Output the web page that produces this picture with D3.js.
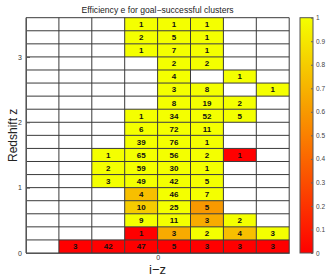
<!DOCTYPE html>
<html>
<head>
<meta charset="utf-8">
<script src="https://cdn.jsdelivr.net/npm/d3@7"></script>
<style>
  html, body { margin: 0; padding: 0; background: #fff; }
  svg { display: block; font-family: "Liberation Sans", Arial, Helvetica, sans-serif; }
</style>
</head>
<body>
<svg id="chart" width="327" height="279"></svg>
<script>
// ---- data ----
const title = "Efficiency e for goal\u2212successful clusters";
const xLabel = "i\u2212z";
const yLabel = "Redshift z";
const izEdges = [-0.8, -0.6, -0.4, -0.2, 0, 0.2, 0.4, 0.6, 0.8];
const zEdges = [0, 0.2, 0.4, 0.6, 0.8, 1.0, 1.2, 1.4, 1.6, 1.8, 2.0, 2.2, 2.4, 2.6, 2.8, 3.0, 3.2, 3.4, 3.6];
const xTicks = [0];
const yTicks = [0, 1, 2, 3];
const cbTicks = [0, 0.1, 0.2, 0.3, 0.4, 0.5, 0.6, 0.7, 0.8, 0.9, 1];
// rows from lowest redshift bin upward; columns follow izEdges bins
const counts = [
  [null, 3, 42, 47, 5, 3, 3, 3],
  [null, null, null, 1, 3, 2, 4, 3],
  [null, null, null, 9, 11, 3, 2, null],
  [null, null, null, 10, 25, 5, null, null],
  [null, null, null, 4, 46, 7, null, null],
  [null, null, 3, 49, 42, 5, null, null],
  [null, null, 2, 59, 30, 1, null, null],
  [null, null, 1, 65, 56, 2, 1, null],
  [null, null, null, 39, 76, 1, null, null],
  [null, null, null, 6, 72, 11, null, null],
  [null, null, null, 1, 34, 52, 5, null],
  [null, null, null, null, 8, 19, 2, null],
  [null, null, null, null, 3, 8, null, 1],
  [null, null, null, null, 4, null, 1, null],
  [null, null, null, null, 2, 2, null, null],
  [null, null, null, 1, 7, 1, null, null],
  [null, null, null, 2, 5, 1, null, null],
  [null, null, null, 1, 1, 1, null, null]
];
const efficiency = [
  [null, 0, 0, 0, 0, 0, 0, 0],
  [null, null, null, 0, 0.67, 1, 0.75, 1],
  [null, null, null, 1, 1, 0.67, 1, null],
  [null, null, null, 0.8, 1, 0.6, null, null],
  [null, null, null, 0.75, 1, 1, null, null],
  [null, null, 1, 1, 1, 1, null, null],
  [null, null, 1, 1, 1, 1, null, null],
  [null, null, 1, 1, 1, 1, 0, null],
  [null, null, null, 1, 1, 1, null, null],
  [null, null, null, 1, 1, 1, null, null],
  [null, null, null, 1, 1, 1, 1, null],
  [null, null, null, null, 1, 1, 1, null],
  [null, null, null, null, 1, 1, null, 1],
  [null, null, null, null, 1, null, 1, null],
  [null, null, null, null, 1, 1, null, null],
  [null, null, null, 1, 1, 1, null, null],
  [null, null, null, 1, 1, 1, null, null],
  [null, null, null, 1, 1, 1, null, null]
];

(function () {
// ---- layout ----
const svg = d3.select("#chart");
const pLeft = 26, pRight = 289.2, pTop = 17.7, pBottom = 253;
const x = d3.scaleLinear().domain([izEdges[0], izEdges[izEdges.length - 1]]).range([pLeft, pRight]);
const y = d3.scaleLinear().domain([zEdges[0], zEdges[zEdges.length - 1]]).range([pBottom, pTop]);
const color = d3.scaleLinear().domain([0, 1]).range(["#ff0000", "#f4ff00"]).interpolate(d3.interpolateRgb);

const cells = [];
counts.forEach((row, ri) => row.forEach((c, ci) => {
  cells.push({ ri, ci, c, e: efficiency[ri][ci] });
}));
const filled = cells.filter(d => d.c !== null);

// cells
svg.append("g").selectAll("rect").data(filled).join("rect")
  .attr("x", d => x(izEdges[d.ci]))
  .attr("y", d => y(zEdges[d.ri + 1]))
  .attr("width", d => x(izEdges[d.ci + 1]) - x(izEdges[d.ci]))
  .attr("height", d => y(zEdges[d.ri]) - y(zEdges[d.ri + 1]))
  .attr("fill", d => color(d.e));

// grid lines
const grid = svg.append("g").attr("stroke", "#3a3a3a").attr("stroke-width", 1);
grid.selectAll("line.h").data(zEdges).join("line").attr("class", "h")
  .attr("x1", pLeft).attr("x2", pRight)
  .attr("y1", d => y(d)).attr("y2", d => y(d));
grid.selectAll("line.v").data(izEdges).join("line").attr("class", "v")
  .attr("y1", pTop).attr("y2", pBottom)
  .attr("x1", d => x(d)).attr("x2", d => x(d));

// cell labels
svg.append("g").selectAll("text").data(filled).join("text")
  .attr("x", d => (x(izEdges[d.ci]) + x(izEdges[d.ci + 1])) / 2)
  .attr("y", d => (y(zEdges[d.ri]) + y(zEdges[d.ri + 1])) / 2)
  .attr("dy", "0.36em")
  .attr("text-anchor", "middle")
  .attr("font-size", 8)
  .attr("font-weight", "bold")
  .attr("fill", "#111")
  .text(d => d.c);

// axes
const yAxis = svg.append("g").attr("transform", `translate(${pLeft},0)`)
  .call(d3.axisLeft(y).tickValues(yTicks).tickSizeInner(-4).tickSizeOuter(0).tickPadding(4).tickFormat(d3.format("d")));
yAxis.select(".domain").attr("stroke", "#555");
yAxis.selectAll(".tick line").attr("stroke", "#555");
yAxis.selectAll("text").attr("font-size", 7).attr("fill", "#333").attr("font-family", "Liberation Sans, Arial, sans-serif");

const xAxis = svg.append("g").attr("transform", `translate(0,${pBottom})`)
  .call(d3.axisBottom(x).tickValues(xTicks).tickSizeInner(-4).tickSizeOuter(0).tickPadding(2).tickFormat(d3.format("d")));
xAxis.select(".domain").attr("stroke", "#555");
xAxis.selectAll(".tick line").attr("stroke", "#555");
xAxis.selectAll("text").attr("font-size", 7).attr("fill", "#333").attr("font-family", "Liberation Sans, Arial, sans-serif");

// titles
svg.append("text").attr("x", (pLeft + pRight) / 2).attr("y", 12.5)
  .attr("text-anchor", "middle").attr("font-size", 8.6).attr("fill", "#222").text(title);
svg.append("text").attr("x", (pLeft + pRight) / 2).attr("y", 274)
  .attr("text-anchor", "middle").attr("font-size", 13).attr("fill", "#222").text(xLabel);
svg.append("text").attr("transform", `translate(16.5,${(pTop + pBottom) / 2}) rotate(-90)`)
  .attr("text-anchor", "middle").attr("font-size", 12).attr("fill", "#222").text(yLabel);

// colorbar
const cbX = 300, cbW = 13;
const cbScale = d3.scaleLinear().domain([0, 1]).range([pBottom, pTop]);
const defs = svg.append("defs");
const grad = defs.append("linearGradient").attr("id", "cbgrad")
  .attr("x1", 0).attr("y1", 1).attr("x2", 0).attr("y2", 0);
grad.selectAll("stop").data(cbTicks).join("stop")
  .attr("offset", d => d).attr("stop-color", d => color(d));
svg.append("rect").attr("x", cbX).attr("y", pTop).attr("width", cbW).attr("height", pBottom - pTop)
  .attr("fill", "url(#cbgrad)").attr("stroke", "#555").attr("stroke-width", 1);
const cbAxis = svg.append("g").attr("transform", `translate(${cbX + cbW},0)`)
  .call(d3.axisRight(cbScale).tickValues(cbTicks).tickSizeInner(-2).tickSizeOuter(0).tickPadding(3).tickFormat(d => d3.format("~g")(d)));
cbAxis.select(".domain").remove();
cbAxis.selectAll(".tick line").attr("stroke", "#666");
cbAxis.selectAll("text").attr("font-size", 6.5).attr("fill", "#444").attr("font-family", "Liberation Sans, Arial, sans-serif");
})();
</script>
</body>
</html>
